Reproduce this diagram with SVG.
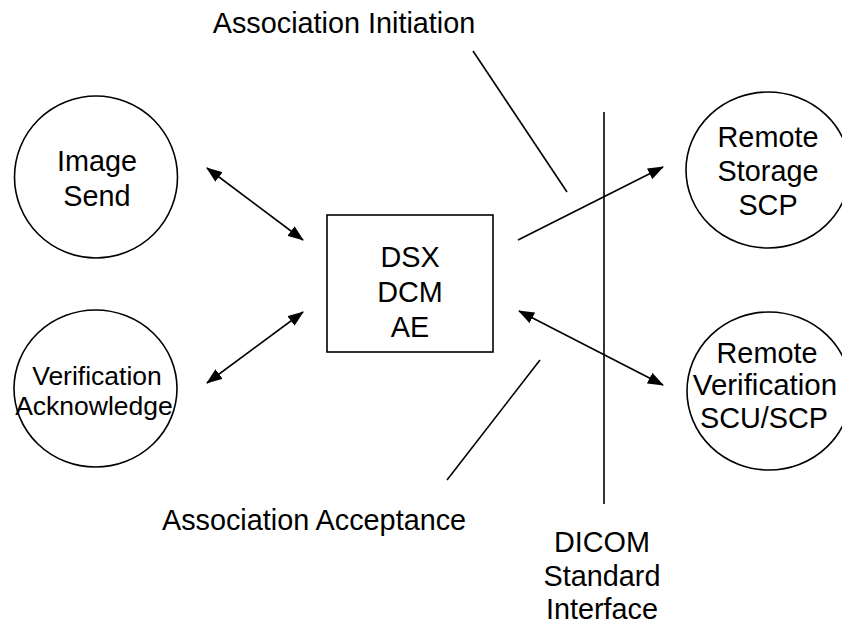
<svg xmlns="http://www.w3.org/2000/svg" width="842" height="626" viewBox="0 0 842 626">
<defs>
<marker id="ah" viewBox="0 0 16 12" refX="15" refY="6" markerWidth="16" markerHeight="12" markerUnits="userSpaceOnUse" orient="auto-start-reverse">
<path d="M0,0 L16,6 L0,12 z" fill="#000"/>
</marker>
<style>
.s{fill:#fff;stroke:#000;stroke-width:1.6}
.t{font-family:"Liberation Sans",Arial,sans-serif;font-size:28.8px;fill:#000;text-anchor:middle}
.ts{font-size:26.5px}
.c{stroke:#000;stroke-width:1.6;fill:none}
</style>
</defs>
<rect width="842" height="626" fill="#fff"/>
<g id="image-send">
<ellipse class="s" cx="96" cy="177" rx="81.5" ry="81"/>
<text class="t" x="97" y="171">Image</text>
<text class="t" x="97" y="206">Send</text>
</g>
<g id="verification-ack">
<ellipse class="s" cx="95.5" cy="388.5" rx="81.5" ry="78.5"/>
<text class="t ts" x="97" y="385">Verification</text>
<text class="t ts" x="94" y="415">Acknowledge</text>
</g>
<g id="dsx-dcm-ae">
<rect class="s" x="327" y="215" width="166" height="137"/>
<text class="t" x="410" y="267">DSX</text>
<text class="t" x="410" y="302">DCM</text>
<text class="t" x="410" y="337">AE</text>
</g>
<g id="remote-storage">
<ellipse class="s" cx="768" cy="170" rx="82" ry="78"/>
<text class="t" x="768" y="147">Remote</text>
<text class="t" x="768" y="181">Storage</text>
<text class="t" x="768" y="215">SCP</text>
</g>
<g id="remote-verification">
<ellipse class="s" cx="769" cy="391" rx="82" ry="79"/>
<text class="t" x="767" y="363">Remote</text>
<text class="t" x="765" y="395" style="font-size:29.5px">Verification</text>
<text class="t" x="764" y="428">SCU/SCP</text>
</g>
<g id="labels">
<text class="t" x="344" y="33">Association Initiation</text>
<text class="t" x="314" y="530">Association Acceptance</text>
<text class="t" x="602" y="552">DICOM</text>
<text class="t" x="602" y="586">Standard</text>
<text class="t" x="602" y="619">Interface</text>
</g>
<g id="connectors">
<line class="c" x1="207" y1="168" x2="303" y2="240" marker-start="url(#ah)" marker-end="url(#ah)"/>
<line class="c" x1="207" y1="383" x2="303" y2="312" marker-start="url(#ah)" marker-end="url(#ah)"/>
<line class="c" x1="518" y1="240" x2="663" y2="167" marker-end="url(#ah)"/>
<line class="c" x1="519" y1="311" x2="663" y2="385" marker-start="url(#ah)" marker-end="url(#ah)"/>
<line class="c" x1="604" y1="112" x2="604" y2="504"/>
<line class="c" x1="473" y1="51" x2="567" y2="192"/>
<line class="c" x1="540" y1="360" x2="447" y2="480"/>
</g>
</svg>
